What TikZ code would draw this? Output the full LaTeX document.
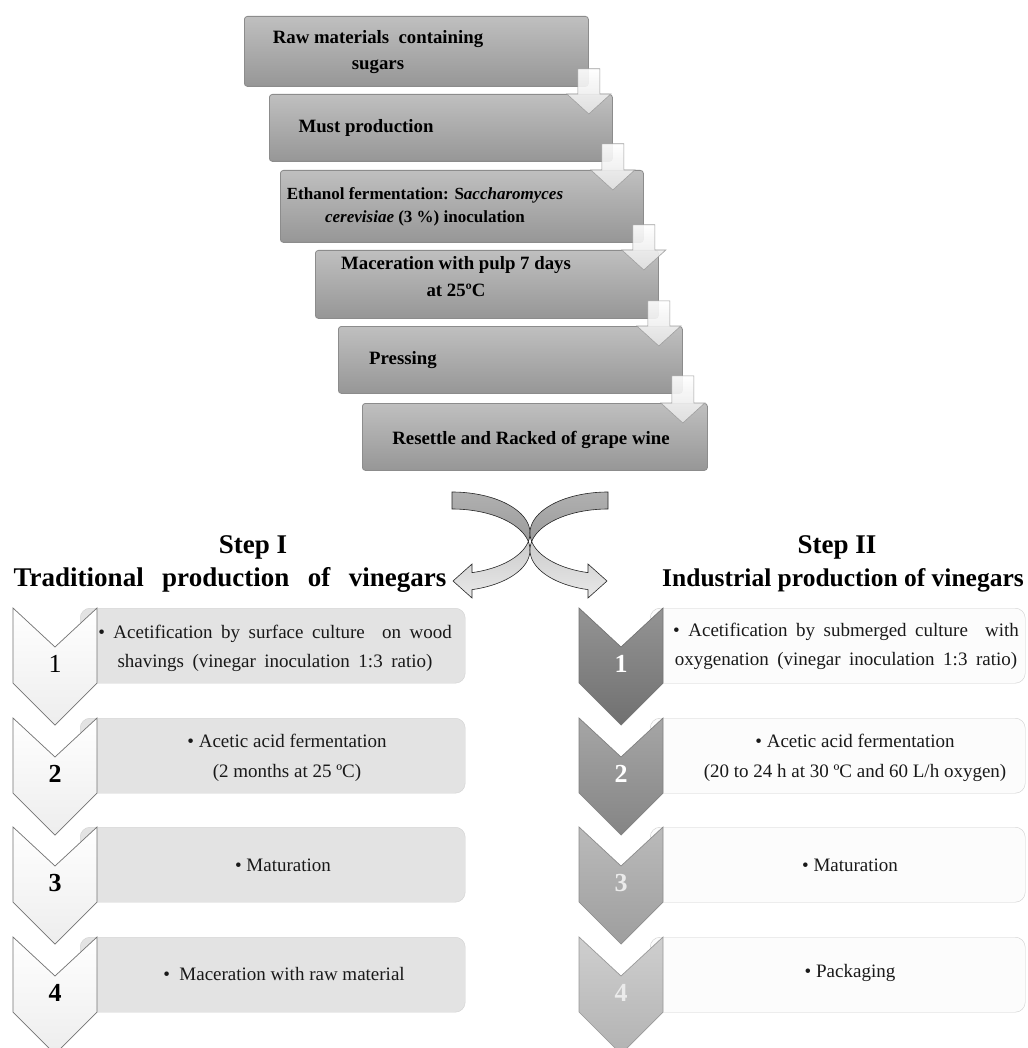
\documentclass[tikz,border=0pt]{standalone}
\usepackage{fontspec}
\setmainfont{Liberation Serif}
\usetikzlibrary{calc}
\definecolor{rcA}{gray}{0.58}\definecolor{rcAb}{gray}{0.44}
\definecolor{rcB}{gray}{0.65}\definecolor{rcBb}{gray}{0.52}
\definecolor{rcC}{gray}{0.73}\definecolor{rcCb}{gray}{0.62}
\definecolor{rcD}{gray}{0.81}\definecolor{rcDb}{gray}{0.70}
\newcommand\stepdown[2]{%
  \path[sarrow] let \p1=(#1.south east), \p2=(#2.north) in
    (\x1-11pt,\y1+18pt) -- (\x1+11pt,\y1+18pt) -- (\x1+11pt,\y2) -- (\x1+22pt,\y2)
    -- (\x1,\y2-20pt) -- (\x1-22pt,\y2) -- (\x1-11pt,\y2) -- cycle;}
\newcommand\chevpath[2]{(#1-42,#2) -- (#1,#2+39) -- (#1+42,#2) -- (#1+42,#2+75) -- (#1,#2+117) -- (#1-42,#2+75) -- cycle}
\newcommand\widespaces{\spaceskip 0.45em plus 0.1em\relax}
\begin{document}
\begin{tikzpicture}[x=1pt,y=-1pt,
  topbox/.style={draw=black!45, line width=0.8pt, rounded corners=3pt,
    top color=gray!50, bottom color=gray!82, anchor=north west, inner sep=0pt},
  toptext/.style={font=\fontsize{18.8}{26}\selectfont\bfseries, align=center, inner sep=0pt},
  sarrow/.style={draw=gray!75, line width=0.6pt, top color=white, bottom color=gray!22, fill opacity=0.9},
  backlune/.style={draw=black!85, line width=0.6pt, top color=gray!62, bottom color=gray!78},
  frontlune/.style={draw=black!85, line width=0.6pt, top color=gray!40, bottom color=gray!18},
  title/.style={font=\fontsize{27}{30}\selectfont\bfseries, inner sep=0pt},
  lbox/.style={draw=gray!35, fill=gray!22, rounded corners=10pt, anchor=north west,
    minimum width=385pt, minimum height=75pt, inner sep=0pt},
  rbox/.style={draw=gray!38, fill=gray!2, rounded corners=10pt, anchor=north west,
    minimum width=375pt, minimum height=75pt, inner sep=0pt},
  btext/.style={font=\fontsize{19}{30}\selectfont, align=center, inner sep=0pt, text=black!90},
  widesp/.style={font=\fontsize{19}{29}\selectfont},
  lchev/.style={draw=black!55, line width=0.7pt, top color=white, bottom color=gray!14},
  lnum/.style={font=\fontsize{26}{28}\selectfont, inner sep=0pt},
  rnum/.style={font=\fontsize{26}{28}\selectfont\bfseries, inner sep=0pt, text=white},
]
\useasboundingbox (0,0) rectangle (1027,1048);
\clip (0,0) rectangle (1027,1048);
\fill[white] (0,0) rectangle (1027,1048);

% staircase boxes
\node[topbox, minimum width=344pt, minimum height=70pt] (b1) at (244,16) {};
\node[toptext] (t1) at (378,52) {Raw materials\ \ containing\\sugars};
\node[topbox, minimum width=343pt, minimum height=67pt] (b2) at (269,94) {};
\node[toptext] (t2) at (366,128) {Must production};
\stepdown{b1}{b2}
\node[topbox, minimum width=363pt, minimum height=72pt] (b3) at (280,170) {};
\node[toptext, font=\fontsize{17}{23}\selectfont\bfseries] (t3) at (425,207)
  {Ethanol fermentation: S\textit{accharomyces}\\\textit{cerevisiae} (3 \%) inoculation};
\stepdown{b2}{b3}
\node[topbox, minimum width=343pt, minimum height=68pt] (b4) at (315,250) {};
\node[toptext, font=\fontsize{18.8}{27}\selectfont\bfseries] (t4) at (456,277) {Maceration with pulp 7 days\\at 25ºC};
\stepdown{b3}{b4}
\node[topbox, minimum width=344pt, minimum height=67pt] (b5) at (338,326) {};
\node[toptext] (t5) at (403,360) {Pressing};
\stepdown{b4}{b5}
\node[topbox, minimum width=345pt, minimum height=67pt] (b6) at (362,403) {};
\node[toptext] (t6) at (531,440) {Resettle and Racked of grape wine};
\stepdown{b5}{b6}

% two curved arrows kissing at the centre (left one turns back to the left, right one to the right)
\path[backlune] plot[variable=\t, domain=90:-11.97, samples=40] ({452+78*cos(\t)},{533-41*sin(\t)})
  -- plot[variable=\t, domain=11.97:90, samples=40] ({452+78*cos(\t)},{550-41*sin(\t)}) -- cycle;
\path[frontlune] plot[variable=\t, domain=11.97:-75.14, samples=50] ({452+78*cos(\t)},{550-41*sin(\t)})
  -- (472,598) -- (453,581) -- (472,564)
  -- plot[variable=\t, domain=-75.14:-11.97, samples=50] ({452+78*cos(\t)},{533-41*sin(\t)}) -- cycle;
\path[backlune] plot[variable=\t, domain=90:-11.97, samples=40] ({608-78*cos(\t)},{533-41*sin(\t)})
  -- plot[variable=\t, domain=11.97:90, samples=40] ({608-78*cos(\t)},{550-41*sin(\t)}) -- cycle;
\path[frontlune] plot[variable=\t, domain=11.97:-75.14, samples=50] ({608-78*cos(\t)},{550-41*sin(\t)})
  -- (588,598) -- (607,581) -- (588,564)
  -- plot[variable=\t, domain=-75.14:-11.97, samples=50] ({608-78*cos(\t)},{533-41*sin(\t)}) -- cycle;

% titles
\node[title] (s1) at (253,547) {Step I};
\node[title] (s1b) at (230,580) {Traditional\hspace{18.5pt}production\hspace{18.5pt}of\hspace{18.5pt}vinegars};
\node[title] (s2) at (837,547) {Step II};
\node[title, font=\fontsize{25.5}{30}\selectfont\bfseries] (s2b) at (843,580) {Industrial production of vinegars};

% left column
\node[lbox] (L1) at (80,608) {};
\node[lbox] (L2) at (80,718) {};
\node[lbox] (L3) at (80,827) {};
\node[lbox] (L4) at (80,937) {};
\path[lchev] \chevpath{55}{608};
\path[lchev] \chevpath{55}{718};
\path[lchev] \chevpath{55}{827};
\path[lchev] \chevpath{55}{937};
\node[lnum] (n1) at (55,664) {1};
\node[lnum, font=\fontsize{26}{28}\selectfont\bfseries] (n2) at (55,774) {2};
\node[lnum, font=\fontsize{26}{28}\selectfont\bfseries] (n3) at (55,883) {3};
\node[lnum, font=\fontsize{26}{28}\selectfont\bfseries] (n4) at (55,993) {4};
\node[btext, widesp] (l1) at (275,648) {\widespaces • Acetification by surface culture\ \ on wood\\\widespaces shavings (vinegar inoculation 1:3 ratio)};
\node[btext] (l2) at (287,758) {• Acetic acid fermentation\\(2 months at 25 ºC)};
\node[btext] (l3) at (283,865) {• Maturation};
\node[btext] (l4) at (284,974) {•\ \ Maceration with raw material};

% right column
\node[rbox] (R1) at (650,608) {};
\node[rbox] (R2) at (650,718) {};
\node[rbox] (R3) at (650,827) {};
\node[rbox] (R4) at (650,937) {};
\path[draw=black!55, line width=0.7pt, top color=rcA, bottom color=rcAb] \chevpath{621}{608};
\path[draw=black!50, line width=0.7pt, top color=rcB, bottom color=rcBb] \chevpath{621}{718};
\path[draw=black!45, line width=0.7pt, top color=rcC, bottom color=rcCb] \chevpath{621}{827};
\path[draw=black!40, line width=0.7pt, top color=rcD, bottom color=rcDb] \chevpath{621}{937};
\node[rnum] (m1) at (621,664) {1};
\node[rnum] (m2) at (621,774) {2};
\node[rnum, text=white!92!black] (m3) at (621,883) {3};
\node[rnum, text=white!92!black] (m4) at (621,993) {4};
\node[btext, widesp] (r1) at (846,646) {\widespaces • Acetification by submerged culture\ \ with\\\widespaces oxygenation (vinegar inoculation 1:3 ratio)};
\node[btext] (r2) at (855,758) {• Acetic acid fermentation\\(20 to 24 h at 30 ºC and 60 L/h oxygen)};
\node[btext] (r3) at (850,865) {• Maturation};
\node[btext] (r4) at (850,973) {• Packaging};
\end{tikzpicture}
\end{document}
